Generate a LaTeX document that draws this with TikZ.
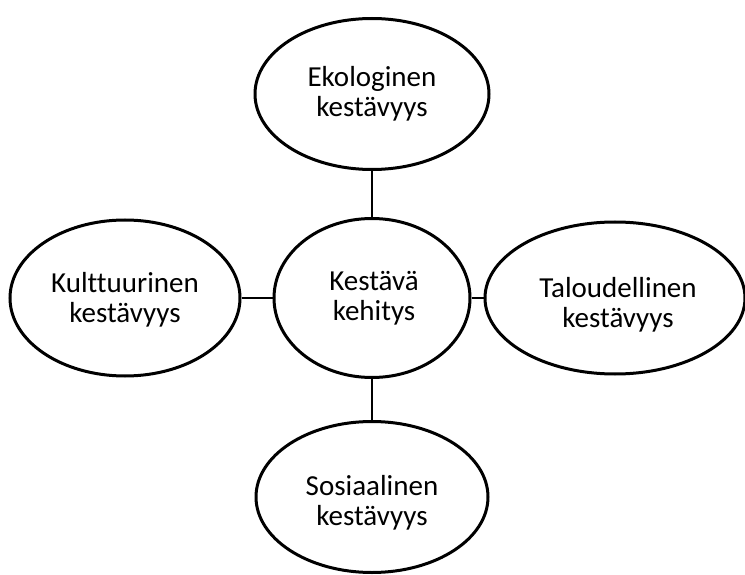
\documentclass[tikz,border=0pt]{standalone}
\usepackage{fontspec}
\setmainfont{Carlito}[Ligatures=CommonOff]
\usetikzlibrary{shapes.geometric}
\begin{document}
\begin{tikzpicture}[x=1pt,y=-1pt,
  ell/.style={draw=black, line width=3pt, ellipse, inner sep=0pt, fill=white},
  txt/.style={align=center, font=\fontsize{29}{30}\selectfont, inner sep=0pt},
  conn/.style={draw=black, line width=2.6pt}]
\useasboundingbox (0,0) rectangle (745,575);
\node[ell, minimum width=234, minimum height=151] (eko) at (372,94) {};
\node[ell, minimum width=196, minimum height=159] (ydin) at (372,298) {};
\node[ell, minimum width=230, minimum height=156] (kult) at (125,298) {};
\node[ell, minimum width=260, minimum height=152] (talo) at (615,298) {};
\node[ell, minimum width=232, minimum height=151] (sos) at (372,497) {};
\draw[conn] (eko.south) -- (ydin.north);
\draw[conn] (ydin.south) -- (sos.north);
\draw[conn] (kult.east) -- (ydin.west);
\draw[conn] (ydin.east) -- (talo.west);
\node[txt] (ekot) at (372,94) {Ekologinen\\kestävyys};
\node[txt] (ydint) at (374,298) {Kestävä\\kehitys};
\node[txt] (kultt) at (125,300) {Kulttuurinen\\kestävyys};
\node[txt] (talot) at (618,305) {Taloudellinen\\kestävyys};
\node[txt] (sost) at (372,503) {Sosiaalinen\\kestävyys};
\end{tikzpicture}
\end{document}
